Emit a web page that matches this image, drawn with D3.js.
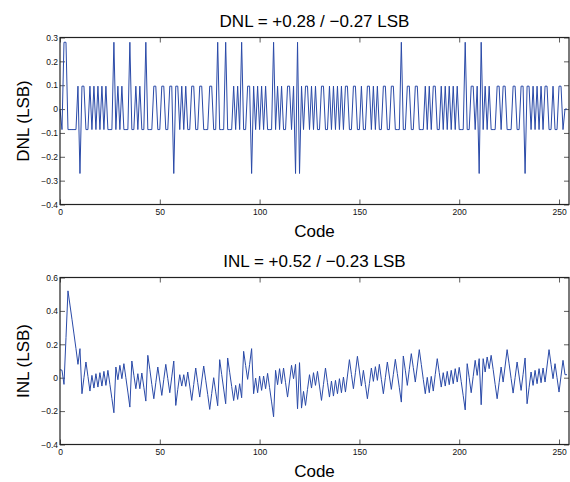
<!DOCTYPE html>
<html>
<head>
<meta charset="utf-8">
<script src="https://cdn.jsdelivr.net/npm/d3@7"></script>
<style>
  body { margin: 0; background: #fff; }
  svg { display: block; font-family: "Liberation Sans", Arial, Helvetica, sans-serif; }
</style>
</head>
<body>
<svg id="chart" width="570" height="482"></svg>
<script>
// DNL per code (LSB)
const dnl = [
  0, -0.086, 0.28, 0.28, -0.086, -0.086, -0.086, -0.086, -0.086, 0.096, -0.27, 0.096, 0.096, -0.086, -0.086, 0.096,
  -0.086, 0.096, -0.086, 0.096, -0.086, 0.096, -0.086, 0.096, -0.086, -0.086, -0.086, 0.28, -0.086, 0.096, -0.086, 0.096,
  -0.086, -0.086, -0.086, 0.28, -0.086, -0.086, 0.096, -0.086, 0.096, -0.086, -0.086, 0.28, -0.086, -0.086, -0.086, 0.096,
  0.096, -0.086, -0.086, 0.096, 0.096, -0.086, -0.086, 0.096, 0.096, -0.27, 0.096, 0.096, -0.086, 0.096, -0.086, 0.096,
  -0.086, -0.086, 0.096, 0.096, -0.086, -0.086, 0.096, 0.096, -0.086, -0.086, -0.086, 0.096, 0.096, -0.086, -0.086, 0.28,
  -0.086, -0.086, -0.086, 0.28, -0.086, -0.086, -0.086, 0.096, -0.086, 0.096, -0.086, 0.28, -0.086, -0.086, 0.096, 0.096,
  -0.27, 0.096, -0.086, 0.096, -0.086, 0.096, -0.086, 0.096, -0.086, -0.086, -0.086, 0.28, -0.086, 0.096, -0.086, 0.096,
  -0.086, -0.086, 0.096, 0.096, -0.086, 0.096, -0.27, 0.28, -0.27, 0.096, -0.086, 0.096, 0.096, -0.086, 0.096, -0.086,
  0.096, -0.086, -0.086, 0.096, 0.096, -0.086, -0.086, 0.096, -0.086, 0.096, -0.086, 0.096, -0.086, 0.096, -0.086, 0.096,
  0.096, -0.086, -0.086, 0.096, 0.096, -0.086, -0.086, 0.096, -0.086, -0.086, 0.096, 0.096, -0.086, 0.096, -0.086, 0.096,
  -0.086, -0.086, 0.096, 0.096, -0.086, -0.086, 0.096, 0.096, -0.086, -0.086, -0.086, 0.28, -0.086, -0.086, 0.096, 0.096,
  -0.086, -0.086, 0.096, 0.096, -0.086, -0.086, -0.086, 0.096, -0.086, 0.096, -0.086, 0.096, 0.096, -0.086, -0.086, 0.096,
  -0.086, 0.096, -0.086, 0.096, -0.086, 0.096, -0.086, 0.096, -0.086, -0.086, -0.086, 0.28, -0.086, -0.086, 0.096, 0.096,
  -0.086, 0.096, -0.27, 0.28, -0.086, 0.096, -0.086, 0.096, -0.086, -0.086, -0.086, 0.096, 0.096, -0.086, 0.096, 0.096,
  -0.086, -0.086, -0.086, 0.096, 0.096, -0.086, -0.086, 0.096, 0.096, -0.27, 0.096, 0.096, -0.086, 0.096, -0.086, 0.096,
  -0.086, 0.096, -0.086, 0.096, 0.096, -0.086, -0.086, 0.096, -0.086, -0.086, 0.096, 0.096, -0.086, 0, 0
];

// INL per code (LSB)
const inl = [
  0.048, 0.045, -0.04, 0.24, 0.52, 0.435, 0.35, 0.262, 0.174, 0.08, 0.174, -0.096, 0.0, 0.094, 0.008, -0.08,
  0.014, -0.062, 0.024, -0.056, 0.03, -0.05, 0.038, -0.046, 0.044, -0.04, -0.125, -0.21, 0.064, -0.012, 0.074, -0.006,
  0.084, 0.0, -0.086, -0.176, 0.1, 0.015, -0.066, 0.024, -0.066, 0.028, -0.057, -0.14, 0.134, 0.05, -0.04, -0.126,
  -0.03, 0.064, -0.02, -0.106, -0.01, 0.08, -0.005, -0.09, 0.005, 0.1, -0.166, -0.07, 0.018, -0.05, 0.018, -0.052,
  0.034, -0.05, -0.136, -0.04, 0.058, -0.03, -0.116, -0.02, 0.07, -0.015, -0.1, -0.19, -0.095, 0.0, -0.085, -0.168,
  0.108, 0.02, -0.068, -0.156, 0.118, 0.033, -0.052, -0.137, -0.046, -0.13, -0.036, -0.12, 0.158, 0.073, -0.01, 0.08,
  0.174, -0.096, -0.002, -0.09, 0.01, -0.076, 0.01, -0.066, 0.026, -0.06, -0.145, -0.234, 0.044, -0.042, 0.054, -0.036,
  0.058, -0.03, -0.116, -0.02, 0.074, -0.006, 0.08, -0.186, 0.09, -0.182, -0.082, -0.166, -0.07, 0.018, -0.062, 0.03,
  -0.046, 0.038, -0.05, -0.136, -0.04, 0.058, -0.03, -0.116, -0.02, -0.11, -0.016, -0.096, -0.006, -0.09, 0.004, -0.086,
  0.01, 0.108, 0.02, -0.066, 0.03, 0.128, 0.04, -0.05, 0.044, -0.04, -0.126, -0.035, 0.058, -0.022, 0.066, -0.016,
  0.08, -0.01, -0.096, 0.0, 0.094, 0.01, -0.07, 0.02, 0.11, 0.025, -0.06, -0.146, 0.13, 0.045, -0.046, 0.05,
  0.144, 0.06, -0.026, 0.07, 0.168, 0.08, -0.01, -0.096, 0.002, -0.09, 0.008, -0.08, 0.02, 0.114, 0.03, -0.056,
  0.03, -0.05, 0.038, -0.042, 0.044, -0.036, 0.054, -0.026, 0.062, -0.023, -0.108, -0.193, 0.084, 0.0, -0.09, 0.007,
  0.104, 0.014, 0.114, -0.162, 0.114, 0.034, 0.124, 0.054, 0.134, 0.05, -0.04, -0.126, -0.03, 0.064, -0.026, 0.07,
  0.168, 0.083, -0.005, -0.092, 0.0, 0.094, 0.01, -0.076, 0.02, 0.118, -0.156, -0.06, 0.034, -0.046, 0.044, -0.036,
  0.054, -0.03, 0.058, -0.026, 0.07, 0.168, 0.08, -0.006, 0.084, 0.0, -0.086, 0.01, 0.104, 0.018, 0.018
];

const dnlTicks = [0.3, 0.2, 0.1, 0, -0.1, -0.2, -0.3, -0.4];
const inlTicks = [0.6, 0.4, 0.2, 0, -0.2, -0.4];
const codeTicks = [0, 50, 100, 150, 200, 250];
const codeRange = [0, 255];
const titles = ["DNL = +0.28 / \u22120.27 LSB", "INL = +0.52 / \u22120.23 LSB"];
const yLabels = ["DNL (LSB)", "INL (LSB)"];
const xLabel = "Code";

const left = 60
const right = 569
const lineColor = '#2a4aa8'
const svg = d3.select('#chart')

const xScale = d3.scaleLinear().domain(codeRange).range([left, right])
const fmt = v => String(v).replace('-', '\u2212')

const drawPanel = (values, ticks, top, bottom, title, yLabel) => {
    const yScale = d3.scaleLinear()
        .domain([d3.min(ticks), d3.max(ticks)])
        .range([bottom, top])
    const g = svg.append('g')

    const yAxis = g.append('g')
        .attr('transform', `translate(${left},0)`)
        .call(d3.axisLeft(yScale).tickValues(ticks).tickSize(-5).tickPadding(2).tickFormat(fmt))
    g.append('g')
        .attr('transform', `translate(${right},0)`)
        .call(d3.axisRight(yScale).tickValues(ticks).tickSize(-5).tickFormat(''))
    const xAxis = g.append('g')
        .attr('transform', `translate(0,${bottom})`)
        .call(d3.axisBottom(xScale).tickValues(codeTicks).tickSize(-5).tickPadding(4).tickFormat(d3.format('d')))
    g.append('g')
        .attr('transform', `translate(0,${top})`)
        .call(d3.axisTop(xScale).tickValues(codeTicks).tickSize(-5).tickFormat(''))

    g.selectAll('.domain').remove()
    g.selectAll('.tick line').attr('stroke', '#333').attr('stroke-width', 0.8)
    g.selectAll('.tick text')
        .attr('fill', '#111')
        .style('font-size', '8.5px')
        .style('font-family', '"Liberation Sans", Arial, sans-serif')

    const line = d3.line()
        .x((d, i) => xScale(i))
        .y(d => yScale(d))

    g.append('path')
        .datum(values)
        .attr('fill', 'none')
        .attr('stroke', lineColor)
        .attr('stroke-width', 1)
        .attr('stroke-linejoin', 'miter')
        .attr('d', line)

    g.append('rect')
        .attr('x', left)
        .attr('y', top)
        .attr('width', right - left)
        .attr('height', bottom - top)
        .attr('fill', 'none')
        .attr('stroke', '#222')
        .attr('stroke-width', 1.2)

    g.append('text')
        .attr('x', (left + right) / 2)
        .attr('y', top - 11)
        .attr('text-anchor', 'middle')
        .style('font-size', '17px')
        .text(title)

    g.append('text')
        .attr('transform', `translate(29,${(top + bottom) / 2}) rotate(-90)`)
        .attr('text-anchor', 'middle')
        .style('font-size', '17px')
        .text(yLabel)

    g.append('text')
        .attr('x', (left + right) / 2)
        .attr('y', bottom + 32)
        .attr('text-anchor', 'middle')
        .style('font-size', '17px')
        .text(xLabel)
}

drawPanel(dnl, dnlTicks, 37.5, 204.5, titles[0], yLabels[0])
drawPanel(inl, inlTicks, 277.5, 444.5, titles[1], yLabels[1])
</script>
</body>
</html>
